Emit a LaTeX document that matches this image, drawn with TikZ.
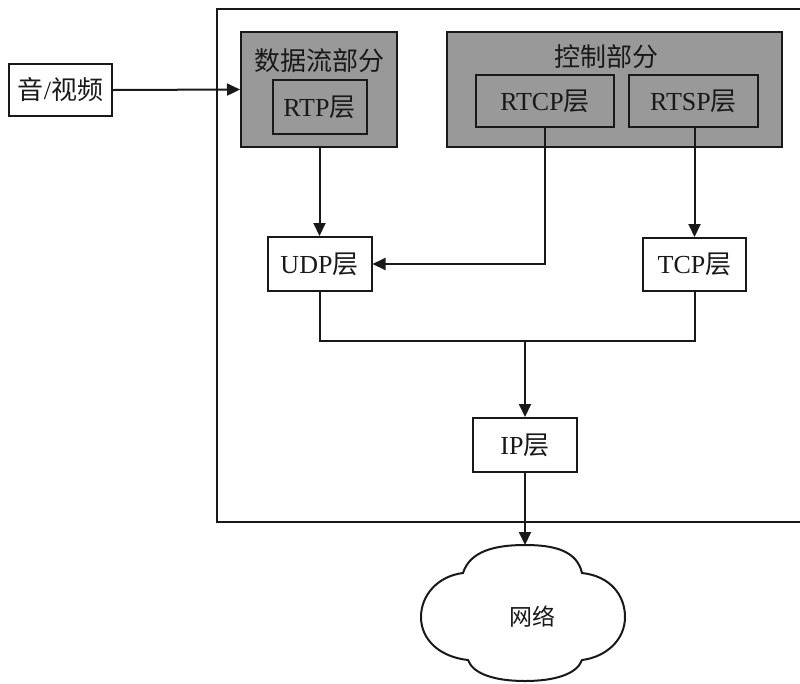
\documentclass[tikz,border=0pt]{standalone}
\usepackage{fontspec}
\setmainfont{Liberation Serif}
\newfontfamily\cjk{Noto Sans CJK SC}
\usetikzlibrary{arrows.meta}
\definecolor{boxgray}{gray}{0.6}
\definecolor{ink}{gray}{0.1}
\tikzset{
  base/.style={draw=ink, line width=2pt, text=ink, inner sep=0pt, font=\fontsize{26}{28}\selectfont},
  wbox/.style={base, fill=white},
  gbox/.style={base, fill=boxgray},
  conn/.style={draw=ink, line width=2pt},
  arr/.style={conn, -{Triangle[length=13pt,width=12pt]}},
}
\begin{document}
\begin{tikzpicture}[x=1pt,y=-1pt]
\useasboundingbox (0,0) rectangle (800,683);
\fill[white] (0,0) rectangle (800,683);
\begin{scope}
\clip (0,0) rectangle (800,683);
\node[base, fill=white, minimum width=600, minimum height=513, anchor=north west] (outer) at (216,8) {};
\end{scope}
\node[wbox, minimum width=103, minimum height=52] (av) at (60.5,90) {{\cjk 音}/{\cjk 视频}};
\node[gbox, minimum width=156, minimum height=115] (databox) at (319,89.5) {};
\node[gbox, minimum width=335, minimum height=115] (ctrlbox) at (614.5,89.5) {};
\node[base, draw=none] (datatitle) at (319,61) {\cjk 数据流部分};
\node[base, draw=none] (ctrltitle) at (606,57) {\cjk 控制部分};
\node[gbox, minimum width=94, minimum height=54] (rtp) at (319.5,107) {RTP{\cjk 层}};
\node[gbox, minimum width=138, minimum height=52] (rtcp) at (545,101) {RTCP{\cjk 层}};
\node[gbox, minimum width=129, minimum height=52] (rtsp) at (693.5,101) {RTSP{\cjk 层}};
\node[wbox, minimum width=104, minimum height=54] (udp) at (319.5,264) {UDP{\cjk 层}};
\node[wbox, minimum width=103, minimum height=53] (tcp) at (694.5,264.5) {TCP{\cjk 层}};
\node[wbox, minimum width=104, minimum height=54] (ip) at (525,445) {IP{\cjk 层}};
\coordinate (j) at (525,341);
\coordinate (cloudtop) at (525,545);
% cloud
\draw[conn, fill=white]
  (463,573) .. controls (470,551) and (495,545) .. (525,545)
  .. controls (555,545) and (577,551) .. (582,573)
  .. controls (610,576) and (625,595) .. (625,617)
  .. controls (625,640) and (606,657) .. (582,660)
  .. controls (577,674) and (555,681) .. (525,681)
  .. controls (495,681) and (473,674) .. (468,660)
  .. controls (440,657) and (421,640) .. (421,617)
  .. controls (421,595) and (438,576) .. cycle;
\node[base, draw=none, font=\fontsize{23}{25}\selectfont] (net) at (532,617) {\cjk 网络};
% connectors
\draw[arr] (av.east) -- (databox.west);
\draw[arr] (databox.south -| rtp.south) -- (udp.north);
\draw[arr] (rtcp.south) -- (rtcp.south |- udp.east) -- (udp.east);
\draw[arr] (rtsp.south) -- (rtsp.south -| tcp.north) -- (tcp.north);
\draw[conn] (udp.south) -- (udp.south |- j) -- (tcp.south |- j) -- (tcp.south);
\draw[arr] (j) -- (ip.north);
\draw[arr] (ip.south) -- (cloudtop);
\end{tikzpicture}
\end{document}
